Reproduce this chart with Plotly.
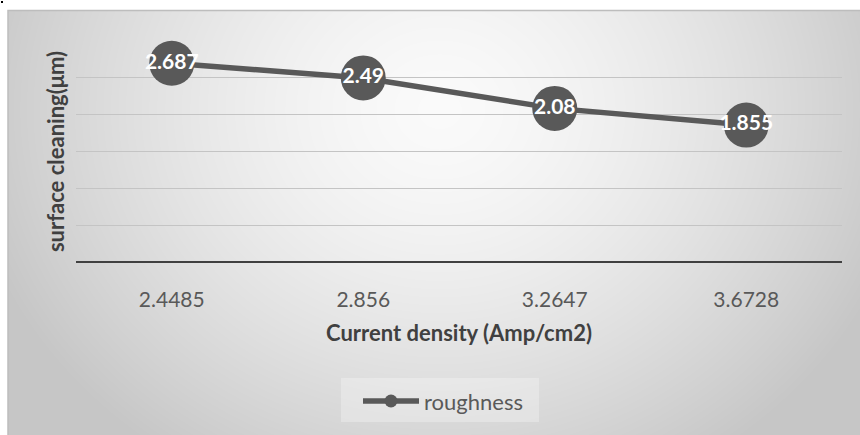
import base64
import struct
import zlib

import numpy as np
import plotly.graph_objects as go

# ---- data -------------------------------------------------------------
current_density = ["2.4485", "2.856", "3.2647", "3.6728"]
roughness = [2.687, 2.49, 2.08, 1.855]
series_name = "roughness"
x_title = "Current density (Amp/cm2)"
y_title = "surface cleaning(μm)"
y_range = [0, 3]
y_step = 0.5

# ---- page geometry ------------------------------------------------------
W, H = 860, 435
M = dict(l=76, r=18, t=40, b=172)
PW = W - M["l"] - M["r"]
PH = H - M["t"] - M["b"]


def px_x(x):
    return (x - M["l"]) / PW


def px_y(y):
    return (H - M["b"] - y) / PH


def png_data_uri(arr):
    """Encode a 2-D uint8 array as a grayscale PNG data URI."""
    h, w = arr.shape
    raw = b"".join(b"\x00" + arr[i].tobytes() for i in range(h))

    def chunk(tag, data):
        body = tag + data
        return (struct.pack(">I", len(data)) + body
                + struct.pack(">I", zlib.crc32(body) & 0xFFFFFFFF))

    png = (b"\x89PNG\r\n\x1a\n"
           + chunk(b"IHDR", struct.pack(">IIBBBBB", w, h, 8, 0, 0, 0, 0))
           + chunk(b"IDAT", zlib.compress(raw, 9))
           + chunk(b"IEND", b""))
    return "data:image/png;base64," + base64.b64encode(png).decode()


# soft radial gray fill behind the whole chart area
CX0, CY0, CX1, CY1 = 8, 10, 860, 435
yy, xx = np.mgrid[CY0:CY1, CX0:CX1].astype(float) + 0.5
d = np.sqrt(((xx - 440) / 480) ** 2 + ((yy - 110) / 420) ** 2)
shade = 250 - 52 * np.clip(d, 0, 1) ** 1.5
bg_uri = png_data_uri(np.round(shade).astype(np.uint8))

DARK = "#595959"
TITLE = "#404040"
FONT = "Lato"

fig = go.Figure()
fig.add_trace(go.Scatter(
    x=current_density,
    y=roughness,
    name=series_name,
    mode="lines+markers+text",
    line=dict(color=DARK, width=5.5),
    marker=dict(size=45, color=DARK, line=dict(width=0)),
    texttemplate="%{y}",
    textposition="middle center",
    textfont=dict(family=FONT, size=21, color="white", weight="bold"),
    cliponaxis=False,
    showlegend=False,
))

# legend key drawn below the plot: line, marker dot and series name
LEG_Y = 401
legend_shapes = [
    dict(type="rect", xref="paper", yref="paper",
         x0=px_x(341), x1=px_x(539), y0=px_y(422), y1=px_y(378),
         line=dict(width=0), fillcolor="rgba(255,255,255,0.28)", layer="below"),
    dict(type="line", xref="paper", yref="paper",
         x0=px_x(363), x1=px_x(419), y0=px_y(LEG_Y), y1=px_y(LEG_Y),
         line=dict(color=DARK, width=5.5)),
    dict(type="circle", xref="paper", yref="paper",
         x0=px_x(384.5), x1=px_x(397.5), y0=px_y(LEG_Y + 6.5), y1=px_y(LEG_Y - 6.5),
         line=dict(width=0), fillcolor=DARK),
]

fig.update_layout(
    width=W,
    height=H,
    margin=M,
    paper_bgcolor="white",
    plot_bgcolor="rgba(0,0,0,0)",
    font=dict(family=FONT, color=DARK),
    showlegend=False,
    xaxis=dict(
        type="category",
        range=[-0.5, len(current_density) - 0.5],
        showgrid=False,
        zeroline=False,
        showline=False,
        ticks="",
        tickfont=dict(family=FONT, size=21, color=DARK),
        ticklabelstandoff=22,
        title=dict(text=x_title, standoff=15,
                   font=dict(family=FONT, size=22, color=TITLE, weight="bold")),
    ),
    yaxis=dict(
        range=y_range,
        dtick=y_step,
        showgrid=True,
        gridcolor="#c4c4c4",
        gridwidth=1,
        zeroline=False,
        showline=False,
        showticklabels=False,
        ticks="",
        title=dict(text=y_title, standoff=4,
                   font=dict(family=FONT, size=22, color=TITLE, weight="bold")),
    ),
    images=[dict(
        source=bg_uri,
        xref="paper", yref="paper",
        x=px_x(CX0), y=px_y(CY0),
        sizex=(CX1 - CX0) / PW, sizey=(CY1 - CY0) / PH,
        xanchor="left", yanchor="top",
        sizing="stretch",
        layer="below",
    )],
    annotations=[dict(
        text=series_name,
        xref="paper", yref="paper",
        x=px_x(422), y=px_y(LEG_Y),
        xanchor="left", yanchor="middle",
        showarrow=False,
        font=dict(family=FONT, size=22, color=DARK),
    )],
    shapes=[
        # chart frame
        dict(type="rect", xref="paper", yref="paper",
             x0=px_x(CX0), x1=px_x(CX1 + 4), y0=px_y(CY1 + 4), y1=px_y(CY0 + 0.5),
             line=dict(color="#bdbdbd", width=1.5), fillcolor="rgba(0,0,0,0)",
             layer="below"),
        # category axis baseline
        dict(type="line", xref="paper", yref="y",
             x0=0, x1=1, y0=y_range[0], y1=y_range[0],
             line=dict(color="#404040", width=4)),
        # small mark in the page corner
        dict(type="rect", xref="paper", yref="paper",
             x0=px_x(1), x1=px_x(3), y0=px_y(3), y1=px_y(1),
             line=dict(width=0), fillcolor="black"),
    ] + legend_shapes,
)

fig.write_html("out.html")
